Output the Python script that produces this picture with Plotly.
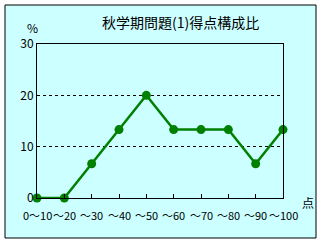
import plotly.graph_objects as go

categories = ["0～10", "～20", "～30", "～40", "～50", "～60", "～70", "～80", "～90", "～100"]
values = [0, 0, 6.67, 13.33, 20, 13.33, 13.33, 13.33, 6.67, 13.33]
y_ticks = [0, 10, 20, 30]
title_text = "秋学期問題(1)得点構成比"
y_unit = "%"
x_unit = "点"

FONT = "Noto Sans CJK JP"
BG = "#CCFFFF"
GREEN = "#008000"

# plot area in pixels: left 37, right 283, top 44, bottom 198
W, H = 322, 241
L, R, T, B = 37, 283, 44, 198
pw, ph = R - L, B - T

def px(x):
    return (x - L) / pw

def py(y):
    return (B - y) / ph

xs = list(range(len(categories)))

fig = go.Figure()
fig.add_trace(go.Scatter(
    x=xs, y=values, mode="lines+markers",
    line=dict(color=GREEN, width=2.5),
    marker=dict(color=GREEN, size=9),
    cliponaxis=False, showlegend=False,
))

annotations = [
    dict(text=title_text, xref="paper", yref="paper", x=px(180), y=py(22),
         showarrow=False, font=dict(family=FONT, size=14), xanchor="center", yanchor="middle"),
    dict(text=y_unit, xref="paper", yref="paper", x=px(32), y=py(28),
         showarrow=False, font=dict(family=FONT, size=12), xanchor="center", yanchor="middle"),
    dict(text=x_unit, xref="paper", yref="paper", x=px(308), y=py(202),
         showarrow=False, font=dict(family=FONT, size=12), xanchor="center", yanchor="middle"),
]
for xi, lab in zip(xs, categories):
    annotations.append(dict(
        text=lab, xref="x", yref="paper", x=xi, y=py(215),
        showarrow=False, font=dict(family=FONT, size=11),
        xanchor="center", yanchor="middle",
    ))

fig.update_layout(
    width=W, height=H,
    margin=dict(l=L, r=W - R, t=T, b=H - B),
    paper_bgcolor="white",
    plot_bgcolor=BG,
    font=dict(family=FONT, size=12, color="black"),
    xaxis=dict(
        range=[0, len(categories) - 1],
        tickmode="array", tickvals=xs, showticklabels=False,
        ticks="inside", ticklen=4, tickcolor="black",
        showline=True, linecolor="black", linewidth=1, mirror=True,
        showgrid=False, zeroline=False, fixedrange=True,
    ),
    yaxis=dict(
        range=[0, 30], tickvals=y_ticks,
        showline=True, linecolor="black", linewidth=1, mirror=True,
        showgrid=True, gridcolor="black", griddash="3px,3px", gridwidth=1,
        zeroline=False, ticks="", ticklen=0,
        tickfont=dict(family=FONT, size=12), fixedrange=True,
    ),
    shapes=[dict(
        type="rect", xref="paper", yref="paper", layer="below",
        x0=px(5), x1=px(316), y0=py(238), y1=py(5),
        line=dict(color="black", width=1), fillcolor=BG,
    )],
    annotations=annotations,
)

fig.write_html("out.html")
